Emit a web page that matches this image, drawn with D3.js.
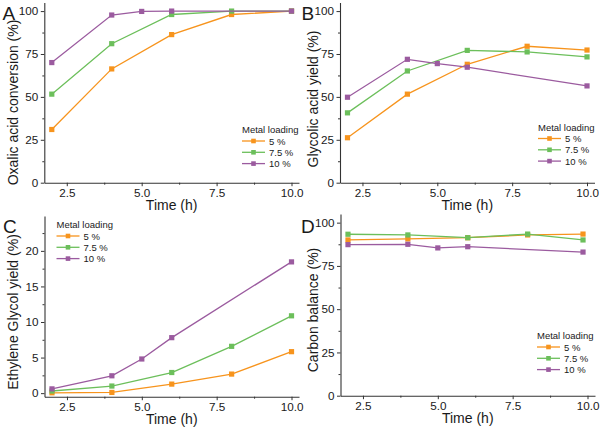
<!DOCTYPE html>
<html><head><meta charset="utf-8">
<script src="https://cdn.jsdelivr.net/npm/d3@7"></script>
<style>
body{margin:0;background:#fff}
svg{display:block}
text{font-family:"Liberation Sans",Arial,sans-serif;fill:#1a1a1a}
</style>
</head><body><svg id="c" width="601" height="429"></svg>
<script>
// ---------- data ----------
const seriesNames = ["5 %", "7.5 %", "10 %"];
const timeMain = [2, 4, 6, 8, 10];          // 5 % and 7.5 % loadings
const timePurple = [2, 4, 5, 6, 10];        // 10 % loading
const timeMainD = [2, 4, 6, 8, 9.85];
const timePurpleD = [2, 4, 5, 6, 9.85];

const conv5  = [31.0, 66.3, 86.3, 98.0, 100];
const conv75 = [51.6, 81.0, 98.0, 100, 100];
const conv10 = [70.0, 97.7, 99.8, 100, 100];

const gly5  = [26.2, 51.6, 69.0, 79.5, 77.3];
const gly75 = [40.7, 65.1, 77.1, 76.2, 73.3];
const gly10 = [49.8, 71.9, 69.4, 67.3, 56.4];

const eg5  = [0.05, 0.1, 1.27, 2.68, 5.83];
const eg75 = [0.3, 1.0, 2.9, 6.58, 10.87];
const eg10 = [0.6, 2.44, 4.8, 7.8, 18.45];

const cb5  = [90.0, 90.6, 91.3, 92.9, 93.4];
const cb75 = [93.3, 92.9, 91.3, 93.4, 90.0];
const cb10 = [87.3, 87.5, 85.4, 86.1, 83.0];

const xTickValues = [2.5, 5.0, 7.5, 10.0];
const xMinorValues = [3.75, 6.25, 8.75];
const yTicksPct = [0, 25, 50, 75, 100];
const yMinorPct = [12.5, 37.5, 62.5, 87.5];
const yTicksEG = [0, 5, 10, 15, 20];
const yMinorEG = [2.5, 7.5, 12.5, 17.5, 22.5];

const colors = ["#f7941d", "#6cbf5b", "#9b5b9f"];

// ---------- panels ----------
const panels = [
  {letter:"A", title:"Oxalic acid conversion (%)", box:{l:44.3,r:299,t:2.5,b:182.7}, yDom:[0,105],
   yT:yTicksPct, yM:yMinorPct, fmt:d3.format("d"),
   series:[[timeMain,conv5],[timeMain,conv75],[timePurple,conv10]],
   leg:{x:242,y:133}, letterPos:[2.5,20], titleX:17.5, titleY:102.5},
  {letter:"B", title:"Glycolic acid yield (%)", box:{l:340,r:594.5,t:2.5,b:182.7}, yDom:[0,105],
   yT:yTicksPct, yM:yMinorPct, fmt:d3.format("d"),
   series:[[timeMain,gly5],[timeMain,gly75],[timePurple,gly10]],
   leg:{x:538,y:130.5}, letterPos:[301.5,20], titleX:318, titleY:99},
  {letter:"C", title:"Ethylene Glycol yield (%)", box:{l:44.5,r:299,t:216,b:396.7}, yDom:[-0.5,24.9],
   yT:yTicksEG, yM:yMinorEG, fmt:d3.format("d"),
   series:[[timeMain,eg5],[timeMain,eg75],[timePurple,eg10]],
   leg:{x:56.5,y:228}, letterPos:[3,233], titleX:17.5, titleY:312},
  {letter:"D", title:"Carbon balance (%)", box:{l:340.5,r:595,t:214,b:395.7}, yDom:[0,105],
   yT:yTicksPct, yM:yMinorPct, fmt:d3.format("d"),
   series:[[timeMainD,cb5],[timeMainD,cb75],[timePurpleD,cb10]],
   leg:{x:537,y:339}, letterPos:[301,233], titleX:318, titleY:310}
];

const svg = d3.select("#c");

panels.forEach(p => {
  const b = p.box;
  const x = d3.scaleLinear().domain([1.75, 10.25]).range([b.l, b.r]);
  const y = d3.scaleLinear().domain(p.yDom).range([b.b, b.t]);
  const g = svg.append("g");

  // axes
  const xAxis = d3.axisBottom(x).tickValues(xTickValues).tickFormat(d3.format(".1f")).tickSizeInner(3.5).tickSizeOuter(0).tickPadding(3);
  const xMinor = d3.axisBottom(x).tickValues(xMinorValues).tickFormat("").tickSizeInner(2).tickSizeOuter(0);
  const yAxis = d3.axisLeft(y).tickValues(p.yT).tickFormat(p.fmt).tickSizeInner(3.5).tickSizeOuter(0).tickPadding(2.5);
  const yMinor = d3.axisLeft(y).tickValues(p.yM).tickFormat("").tickSizeInner(2).tickSizeOuter(0);

  g.append("g").attr("transform", `translate(0,${b.b})`).call(xAxis);
  g.append("g").attr("transform", `translate(0,${b.b})`).call(xMinor).select(".domain").remove();
  g.append("g").attr("transform", `translate(${b.l},0)`).call(yAxis);
  g.append("g").attr("transform", `translate(${b.l},0)`).call(yMinor).select(".domain").remove();

  g.selectAll(".domain").attr("stroke", "#333").attr("stroke-width", 1.1);
  g.selectAll(".tick line").attr("stroke", "#333").attr("stroke-width", 1);
  g.selectAll(".tick text").attr("font-size", 11.7).attr("fill", "#1a1a1a")
    .style("font-family", '"Liberation Sans",Arial,sans-serif');

  // titles
  g.append("text").attr("x", (b.l + b.r) / 2).attr("y", b.b + 27.5)
    .attr("text-anchor", "middle").attr("font-size", 14).text("Time (h)");
  g.append("text").attr("transform", `translate(${p.titleX},${p.titleY}) rotate(-90)`)
    .attr("text-anchor", "middle").attr("font-size", 14).text(p.title);
  g.append("text").attr("x", p.letterPos[0]).attr("y", p.letterPos[1])
    .attr("font-size", 19).text(p.letter);

  // series
  const line = d3.line().x(d => x(d[0])).y(d => y(d[1]));
  p.series.forEach((s, i) => {
    const pts = s[0].map((t, k) => [t, s[1][k]]);
    g.append("path").datum(pts).attr("d", line).attr("fill", "none")
      .attr("stroke", colors[i]).attr("stroke-width", 1.3);
    g.selectAll(null).data(pts).enter().append("rect")
      .attr("x", d => x(d[0]) - 2.6).attr("y", d => y(d[1]) - 2.6)
      .attr("width", 5.2).attr("height", 5.2).attr("fill", colors[i]);
  });

  // legend
  const lg = g.append("g").attr("transform", `translate(${p.leg.x},${p.leg.y})`);
  lg.append("text").attr("x", 0).attr("y", 0).attr("font-size", 9.5).text("Metal loading");
  seriesNames.forEach((n, i) => {
    const yy = 8 + i * 11.3;
    lg.append("line").attr("x1", 0).attr("x2", 23).attr("y1", yy).attr("y2", yy)
      .attr("stroke", colors[i]).attr("stroke-width", 1.3);
    lg.append("rect").attr("x", 11.5 - 2.3).attr("y", yy - 2.3).attr("width", 4.6).attr("height", 4.6).attr("fill", colors[i]);
    lg.append("text").attr("x", 27).attr("y", yy + 3.5).attr("font-size", 9.5).text(n);
  });
});
</script>
</body></html>
